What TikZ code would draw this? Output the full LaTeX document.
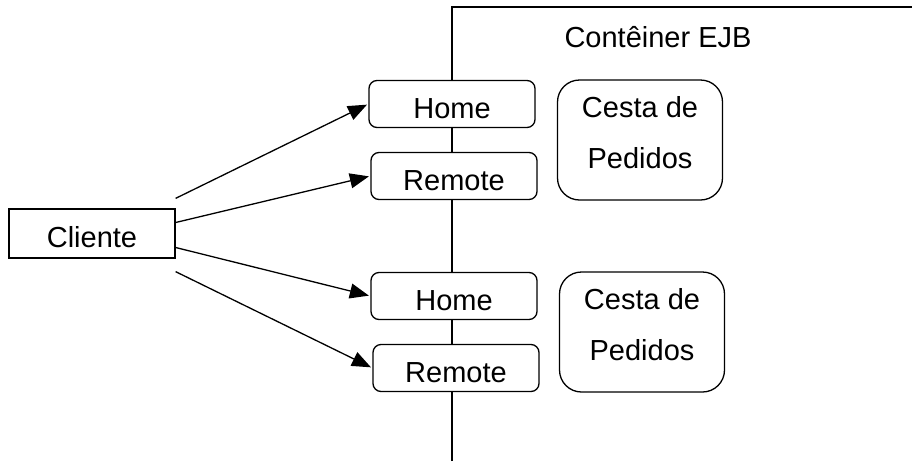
\documentclass[tikz,border=0pt]{standalone}
\usepackage{fontspec}
\setmainfont{Liberation Sans}
\usetikzlibrary{arrows.meta}

\begin{document}
\begin{tikzpicture}[x=1pt, y=-1pt, line width=1.3pt,
    every node/.style={font=\fontsize{29}{51}\selectfont},
    iface/.style={draw, fill=white, rounded corners=8pt, minimum width=166pt, minimum height=47pt, inner sep=0pt, text height=28pt, text depth=0pt},
    bean/.style={draw, fill=white, rounded corners=22pt, minimum width=165pt, minimum height=120pt, inner sep=0pt},
    call/.style={-{Triangle[length=19pt, width=15pt]}, shorten >=1.5pt}]
    \useasboundingbox (0,0) rectangle (912,461);

    % Container border:
    \coordinate (cbottom) at (452,461);
    \coordinate (ccorner) at (452,7);
    \coordinate (cright) at (912,7);
    \draw (cbottom) -- (ccorner) -- (cright);
    \node (ctitle) at (658,37) {Contêiner EJB};

    % Interfaces and beans:
    \node[iface] (home1) at (452,104) {Home};
    \node[iface] (remote1) at (454,176) {Remote};
    \node[bean] (cesta1) at (640,140) {};
    \node[align=center] (cestatxt1) at (640,133) {Cesta de\\Pedidos};

    \node[iface] (home2) at (454,296) {Home};
    \node[iface] (remote2) at (456,368) {Remote};
    \node[bean] (cesta2) at (642,332) {};
    \node[align=center] (cestatxt2) at (642,325) {Cesta de\\Pedidos};

    % Client:
    \node[iface, rounded corners=0pt, minimum height=49pt] (cliente) at (92,233.5) {Cliente};

    \draw[call] ([yshift=10pt]cliente.north east) -- (home1.west);
    \draw[call] ([yshift=11pt]cliente.east) -- (remote1.west);
    \draw[call] ([yshift=-14pt]cliente.east) -- (home2.west);
    \draw[call] ([yshift=-13pt]cliente.south east) -- (remote2.west);
\end{tikzpicture}
\end{document}
